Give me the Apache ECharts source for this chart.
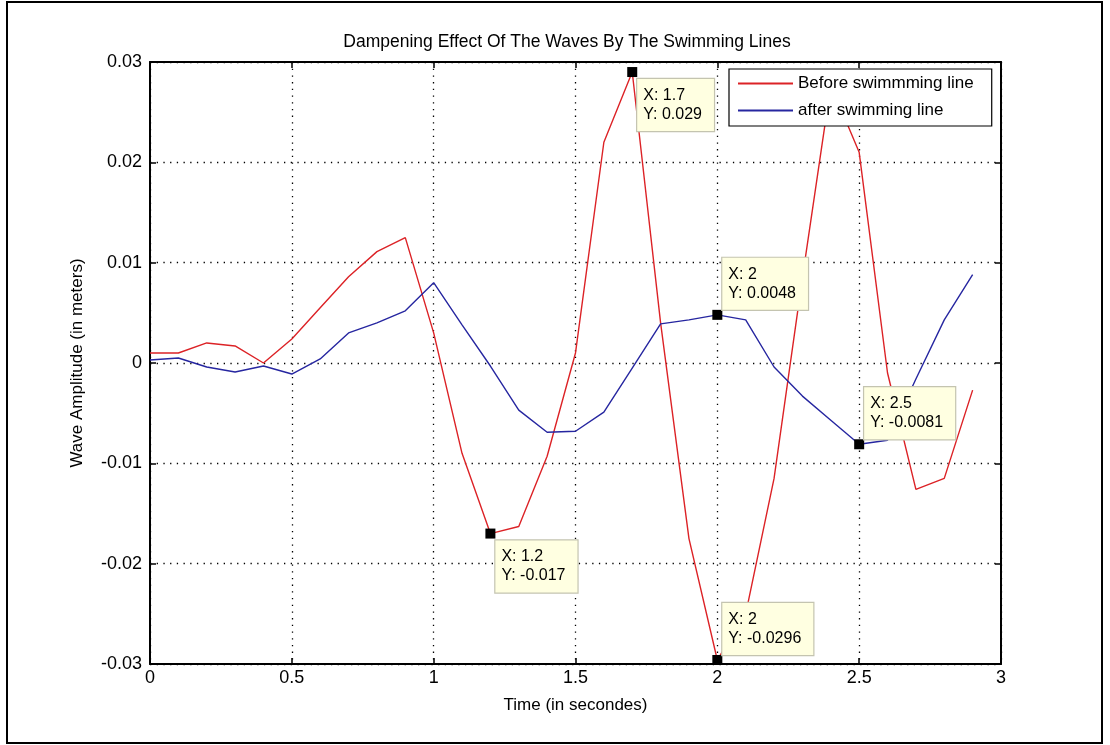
<!DOCTYPE html>
<html>
<head>
<meta charset="utf-8">
<script src="https://cdn.jsdelivr.net/npm/echarts@6/dist/echarts.min.js"></script>
<style>
html,body{margin:0;padding:0;background:#fff;}
#chart{width:1110px;height:745px;}
</style>
</head>
<body>
<div id="chart"></div>
<script>
// ---- data ----
const time = [0,0.1,0.2,0.3,0.4,0.5,0.6,0.7,0.8,0.9,1.0,1.1,1.2,1.3,1.4,1.5,1.6,1.7,1.8,1.9,2.0,2.1,2.2,2.3,2.4,2.5,2.6,2.7,2.8,2.9];
const beforeLine = [0.001,0.001,0.002,0.0017,0.0000,0.0024,0.0055,0.0086,0.0111,0.0125,0.003,-0.009,-0.017,-0.0163,-0.0093,0.001,0.022,0.029,0.004,-0.0175,-0.0296,-0.025,-0.0115,0.0085,0.0277,0.021,-0.001,-0.0126,-0.0115,-0.0027];
const afterLine = [0.0003,0.0005,-0.0004,-0.0009,-0.0003,-0.0011,0.0004,0.003,0.004,0.0052,0.008,0.0038,-0.0003,-0.0047,-0.0069,-0.0068,-0.0049,-0.0005,0.0039,0.0043,0.0048,0.0043,-0.0004,-0.0033,-0.0057,-0.0081,-0.0077,-0.0016,0.0043,0.0088];
const seriesNames = ['Before swimmming line','after swimming line'];
const tipX = [1.2, 1.7, 2, 2, 2.5];
const tipY = [-0.017, 0.029, 0.0048, -0.0296, -0.0081];
const tipBelow = [true, true, false, false, false];
const xTicks = [0,0.5,1,1.5,2,2.5,3];
const yTicks = [-0.03,-0.02,-0.01,0,0.01,0.02,0.03];

const FONT = "'Liberation Sans', Arial, Helvetica, sans-serif";
const RED = '#dc2226';
const BLUE = '#2626a0';

const chart = echarts.init(document.getElementById('chart'));

const tipData = tipX.map((x, i) => ({
  value: [x, tipY[i]],
  label: tipBelow[i]
    ? { position: [10, 12], verticalAlign: 'top' }
    : { position: [10, 0], verticalAlign: 'bottom' }
}));

const grid = { left: 150, top: 62, width: 851, height: 602, show: false };

const gridLine = { show: true, lineStyle: { color: '#000', width: 1.3, type: [1.3, 5.4] } };

const option = {
  animation: false,
  backgroundColor: '#fff',
  textStyle: { fontFamily: FONT },
  title: {
    text: 'Dampening Effect Of The Waves By The Swimming Lines',
    left: 562, top: 28, textAlign: 'center',
    textStyle: { fontFamily: FONT, fontSize: 17.5, fontWeight: 'normal', color: '#000' }
  },
  graphic: [{
    type: 'rect', silent: true, z: -1,
    shape: { x: 7, y: 2, width: 1095, height: 741 },
    style: { fill: 'none', stroke: '#000', lineWidth: 2 }
  }],
  legend: {
    orient: 'vertical',
    left: 729, top: 69,
    padding: [6, 18, 7, 9],
    itemGap: 10,
    itemWidth: 55, itemHeight: 2,
    backgroundColor: '#fff',
    borderColor: '#000', borderWidth: 1.2,
    textStyle: { fontFamily: FONT, fontSize: 17, color: '#000' },
    data: [
      { name: seriesNames[0], icon: 'rect', itemStyle: { color: RED } },
      { name: seriesNames[1], icon: 'rect', itemStyle: { color: BLUE } }
    ]
  },
  grid: grid,
  xAxis: [{
    type: 'value', min: xTicks[0], max: xTicks[xTicks.length - 1], interval: 0.5,
    name: 'Time (in secondes)', nameLocation: 'middle', nameGap: 33,
    nameTextStyle: { fontFamily: FONT, fontSize: 17, color: '#000' },
    axisLine: { show: true, onZero: false, lineStyle: { color: '#000', width: 2 } },
    axisTick: { show: true, inside: true, length: 6, lineStyle: { color: '#000', width: 1.5 } },
    axisLabel: { fontFamily: FONT, fontSize: 18, color: '#000', margin: 5,
      formatter: v => { const t = xTicks.find(t => Math.abs(t - v) < 1e-9); return String(t === undefined ? v : t); } },
    splitLine: gridLine
  }, {
    type: 'value', position: 'top', min: 0, max: 3, interval: 0.5,
    axisLine: { show: true, onZero: false, lineStyle: { color: '#000', width: 2 } },
    axisTick: { show: true, inside: true, length: 6, lineStyle: { color: '#000', width: 1.5 } },
    axisLabel: { show: false }, splitLine: { show: false }
  }],
  yAxis: [{
    type: 'value', min: yTicks[0], max: yTicks[yTicks.length - 1], interval: 0.01,
    name: 'Wave Amplitude (in meters)', nameLocation: 'middle', nameGap: 64,
    nameTextStyle: { fontFamily: FONT, fontSize: 17, color: '#000' },
    axisLine: { show: true, onZero: false, lineStyle: { color: '#000', width: 2 } },
    axisTick: { show: true, inside: true, length: 6, lineStyle: { color: '#000', width: 1.5 } },
    axisLabel: { fontFamily: FONT, fontSize: 18, color: '#000', margin: 8,
      formatter: v => { const t = yTicks.find(t => Math.abs(t - v) < 1e-9); return String(t === undefined ? v : t); } },
    splitLine: gridLine
  }, {
    type: 'value', position: 'right', min: -0.03, max: 0.03, interval: 0.01,
    axisLine: { show: true, onZero: false, lineStyle: { color: '#000', width: 2 } },
    axisTick: { show: true, inside: true, length: 6, lineStyle: { color: '#000', width: 1.5 } },
    axisLabel: { show: false }, splitLine: { show: false }
  }],
  series: [{
    name: seriesNames[0], type: 'line', symbol: 'none', z: 2,
    lineStyle: { color: RED, width: 1.4 }, itemStyle: { color: RED },
    data: time.map((t, i) => [t, beforeLine[i]])
  }, {
    name: seriesNames[1], type: 'line', symbol: 'none', z: 2,
    lineStyle: { color: BLUE, width: 1.4 }, itemStyle: { color: BLUE },
    data: time.map((t, i) => [t, afterLine[i]])
  }, {
    name: 'tips', type: 'scatter', symbol: 'rect', symbolSize: 10, z: 5, clip: false,
    itemStyle: { color: '#000', opacity: 1 },
    label: {
      show: true, align: 'left',
      formatter: p => 'X: ' + p.value[0] + '\nY: ' + p.value[1],
      fontFamily: FONT, fontSize: 16, lineHeight: 19, color: '#000', opacity: 1,
      backgroundColor: '#ffffe1', borderColor: '#c4c4b0', borderWidth: 1.2,
      padding: [7, 12, 7, 6]
    },
    emphasis: { disabled: true },
    data: tipData
  }]
};
chart.setOption(option);
</script>
</body>
</html>
